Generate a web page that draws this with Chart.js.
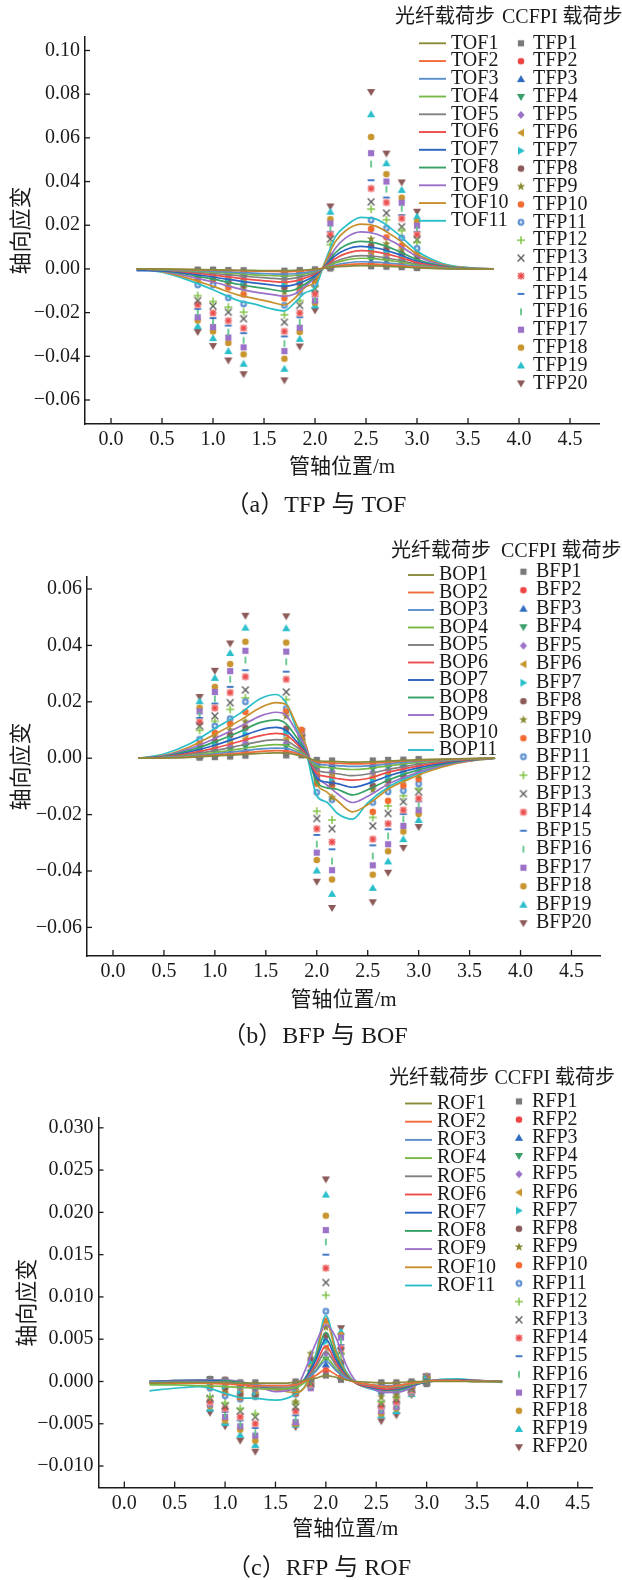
<!DOCTYPE html>
<html>
<head>
<meta charset="utf-8">
<script src="https://cdn.jsdelivr.net/npm/chart.js@4.4.1/dist/chart.umd.min.js"></script>
<style>
  html, body { margin: 0; padding: 0; background: #fff; }
  #page { position: relative; width: 622px; height: 1580px; }
  canvas { position: absolute; left: 0; }
</style>
</head>
<body>
<div id="page">
  <canvas id="chartA" width="622" height="525" style="top:0"></canvas>
  <canvas id="chartB" width="622" height="525" style="top:525px"></canvas>
  <canvas id="chartC" width="622" height="530" style="top:1050px"></canvas>
</div>
<script>
// ---- data ----
const xTicks = [0, 0.5, 1.0, 1.5, 2.0, 2.5, 3.0, 3.5, 4.0, 4.5];
const yTicksA = [-0.06, -0.04, -0.02, 0, 0.02, 0.04, 0.06, 0.08, 0.10];
const yTicksB = [-0.06, -0.04, -0.02, 0, 0.02, 0.04, 0.06];
const yTicksC = [-0.010, -0.005, 0, 0.005, 0.010, 0.015, 0.020, 0.025, 0.030];

// CCFPI measuring positions (m)
const pointX = [0.85, 1.0, 1.15, 1.3, 1.7, 1.85, 2.0, 2.15, 2.55, 2.7, 2.85, 3.0];

// (a) fibre curves TOF1..TOF11
const aLineX = [0.25, 0.5, 0.75, 1.0, 1.25, 1.4, 1.55, 1.7, 1.8, 1.9, 2.0, 2.1, 2.2, 2.3, 2.45, 2.6, 2.8, 3.0, 3.25, 3.5, 3.75];
const aOF = [
  [0, -0.0001, -0.0002, -0.0004, -0.0006, -0.0007, -0.0008, -0.0008, -0.0007, -0.0005, -0.0002, 0.0003, 0.0009, 0.0012, 0.0015, 0.0014, 0.001, 0.0005, 0.0001, 0, 0],
  [0, -0.0001, -0.0003, -0.0006, -0.0008, -0.001, -0.0011, -0.0012, -0.0011, -0.0008, -0.0003, 0.0005, 0.0013, 0.0019, 0.0023, 0.0022, 0.0016, 0.0008, 0.0002, 0, 0],
  [0, -0.0002, -0.0006, -0.0011, -0.0016, -0.0019, -0.0022, -0.0024, -0.0022, -0.0017, -0.0009, 0.0005, 0.0018, 0.0027, 0.0033, 0.0031, 0.0023, 0.0012, 0.0003, 0.0001, 0],
  [0, -0.0003, -0.0008, -0.0015, -0.0022, -0.0027, -0.003, -0.0033, -0.003, -0.0023, -0.0012, 0.0007, 0.0027, 0.004, 0.0049, 0.0046, 0.0034, 0.0017, 0.0005, 0.0001, 0],
  [0, -0.0004, -0.0011, -0.0021, -0.0031, -0.0037, -0.0042, -0.0046, -0.0042, -0.0032, -0.0017, 0.0009, 0.0034, 0.005, 0.0061, 0.0057, 0.0042, 0.0021, 0.0006, 0.0001, 0],
  [0, -0.0005, -0.0015, -0.0028, -0.0042, -0.005, -0.0056, -0.0061, -0.0056, -0.0042, -0.0022, 0.0012, 0.0047, 0.007, 0.0084, 0.0078, 0.0057, 0.0029, 0.0008, 0.0002, 0],
  [-0.0008, -0.0009, -0.002, -0.0037, -0.0055, -0.0064, -0.0072, -0.0079, -0.0072, -0.0055, -0.003, 0.0014, 0.0061, 0.0088, 0.0103, 0.0096, 0.007, 0.0035, 0.001, 0.0002, 0],
  [0, -0.0008, -0.0025, -0.0047, -0.007, -0.0082, -0.0092, -0.0103, -0.0095, -0.007, -0.0035, 0.0016, 0.0074, 0.0108, 0.0126, 0.0118, 0.0085, 0.0043, 0.0013, 0.0003, 0],
  [0, -0.001, -0.0033, -0.006, -0.009, -0.0105, -0.0115, -0.0125, -0.0115, -0.008, -0.004, 0.0018, 0.0095, 0.0142, 0.017, 0.016, 0.0115, 0.0058, 0.0017, 0.0004, 0],
  [0, -0.0012, -0.0042, -0.008, -0.012, -0.0135, -0.015, -0.0165, -0.0135, -0.0085, -0.006, 0.003, 0.0125, 0.0175, 0.0205, 0.0195, 0.014, 0.0068, 0.002, 0.0005, 0],
  [0, -0.0015, -0.005, -0.0095, -0.0145, -0.016, -0.018, -0.0192, -0.0155, -0.011, -0.0085, 0.0035, 0.0148, 0.0196, 0.0236, 0.0228, 0.0165, 0.0082, 0.0025, 0.0006, 0]
];
// (a) CCFPI points: one row per position in pointX, TFP1..TFP20
const aFP = [
  [-0.0003, -0.0006, -0.001, -0.0013, -0.0017, -0.0022, -0.0026, -0.0031, -0.0037, -0.0046, -0.0073, -0.0122, -0.0145, -0.0164, -0.0183, -0.0198, -0.0221, -0.0236, -0.0262, -0.0289],
  [-0.0003, -0.0006, -0.001, -0.0014, -0.0019, -0.0024, -0.003, -0.0036, -0.0043, -0.005, -0.0073, -0.0149, -0.017, -0.0202, -0.0225, -0.024, -0.0266, -0.0286, -0.0317, -0.0353],
  [-0.0005, -0.001, -0.0015, -0.0021, -0.0028, -0.0036, -0.0045, -0.0055, -0.0068, -0.0085, -0.0132, -0.0175, -0.0198, -0.0237, -0.0259, -0.0289, -0.0314, -0.0339, -0.0376, -0.0419],
  [-0.0006, -0.0012, -0.0019, -0.0027, -0.0036, -0.0046, -0.0058, -0.0072, -0.009, -0.0117, -0.016, -0.0198, -0.0228, -0.0271, -0.0294, -0.0327, -0.0359, -0.0391, -0.0434, -0.0482],
  [-0.0008, -0.0015, -0.0023, -0.0032, -0.0043, -0.0055, -0.0068, -0.0085, -0.0106, -0.0135, -0.0167, -0.021, -0.0244, -0.0286, -0.0309, -0.0342, -0.0376, -0.0411, -0.0457, -0.051],
  [-0.0005, -0.001, -0.0016, -0.0023, -0.0031, -0.004, -0.005, -0.0062, -0.0075, -0.009, -0.0107, -0.0145, -0.0167, -0.0202, -0.0221, -0.0244, -0.0269, -0.0289, -0.032, -0.0355],
  [-0.0002, -0.0005, -0.0009, -0.0013, -0.0018, -0.0024, -0.003, -0.0037, -0.0045, -0.0055, -0.0068, -0.008, -0.0091, -0.0114, -0.0125, -0.0135, -0.0145, -0.0155, -0.0167, -0.019],
  [0.0002, 0.0006, 0.001, 0.0014, 0.0019, 0.0025, 0.0032, 0.004, 0.0048, 0.0056, 0.006, 0.0111, 0.0137, 0.0157, 0.017, 0.0183, 0.0208, 0.0228, 0.0262, 0.0286],
  [0.0012, 0.002, 0.003, 0.0042, 0.0055, 0.007, 0.0087, 0.0105, 0.0137, 0.0183, 0.0224, 0.0274, 0.0307, 0.0368, 0.0406, 0.048, 0.053, 0.0604, 0.0708, 0.081],
  [0.001, 0.0018, 0.0027, 0.0037, 0.0048, 0.006, 0.0074, 0.009, 0.0115, 0.0145, 0.0186, 0.0225, 0.0256, 0.0304, 0.0327, 0.0365, 0.04, 0.0434, 0.0484, 0.0528],
  [0.0008, 0.0014, 0.002, 0.0028, 0.0036, 0.0045, 0.0055, 0.0067, 0.0085, 0.0107, 0.0142, 0.0175, 0.0193, 0.0231, 0.0247, 0.0277, 0.0303, 0.0326, 0.0362, 0.0396],
  [0.0004, 0.0008, 0.0012, 0.0017, 0.0022, 0.0028, 0.0035, 0.0043, 0.0055, 0.0068, 0.0094, 0.0122, 0.0134, 0.0157, 0.017, 0.018, 0.0198, 0.0216, 0.024, 0.0262]
];

// (b) fibre curves BOP1..BOP11
const bLineX = [0.25, 0.5, 0.75, 1.0, 1.25, 1.45, 1.6, 1.7, 1.8, 1.9, 2.0, 2.1, 2.2, 2.35, 2.5, 2.7, 2.9, 3.1, 3.35, 3.55, 3.75];
const bOF = [
  [0, 0.0001, 0.0003, 0.0008, 0.0013, 0.0017, 0.0019, 0.0018, 0.0012, 0.0002, -0.0009, -0.0011, -0.0012, -0.0014, -0.0013, -0.001, -0.0007, -0.0004, -0.0002, -0.0001, 0],
  [0, 0.0001, 0.0005, 0.0011, 0.0018, 0.0024, 0.0027, 0.0026, 0.0017, 0.0003, -0.0013, -0.0016, -0.0018, -0.002, -0.0019, -0.0014, -0.0009, -0.0006, -0.0003, -0.0001, 0],
  [0, 0.0002, 0.0007, 0.0015, 0.0025, 0.0033, 0.0036, 0.0035, 0.0023, 0.0005, -0.002, -0.0024, -0.0026, -0.0029, -0.0027, -0.002, -0.0013, -0.0008, -0.0004, -0.0001, 0],
  [0, 0.0002, 0.0009, 0.002, 0.0033, 0.0044, 0.0048, 0.0046, 0.003, 0.0006, -0.0028, -0.0033, -0.0036, -0.004, -0.0037, -0.0027, -0.0018, -0.0011, -0.0005, -0.0002, 0],
  [0, 0.0003, 0.0013, 0.0027, 0.0045, 0.006, 0.0066, 0.0062, 0.004, 0.0009, -0.0042, -0.005, -0.0055, -0.0062, -0.0056, -0.004, -0.0027, -0.0016, -0.0007, -0.0002, 0],
  [0, 0.0004, 0.0017, 0.0036, 0.006, 0.008, 0.0088, 0.0082, 0.0052, 0.0012, -0.0055, -0.0065, -0.0072, -0.0078, -0.0072, -0.005, -0.0034, -0.0021, -0.0009, -0.0003, 0],
  [0, 0.0005, 0.0022, 0.0046, 0.0076, 0.0101, 0.0109, 0.0098, 0.006, 0.0015, -0.007, -0.0085, -0.009, -0.0103, -0.009, -0.0063, -0.0042, -0.0026, -0.0011, -0.0004, 0],
  [0, 0.0007, 0.0027, 0.0058, 0.0095, 0.0127, 0.0136, 0.0122, 0.0075, 0.002, -0.0085, -0.0105, -0.011, -0.013, -0.0112, -0.0078, -0.0052, -0.0032, -0.0014, -0.0005, 0],
  [0, 0.0008, 0.0033, 0.007, 0.0113, 0.015, 0.0163, 0.0152, 0.0095, 0.003, -0.0065, -0.0095, -0.0125, -0.0157, -0.0135, -0.0092, -0.0062, -0.0038, -0.0017, -0.0006, 0],
  [0, 0.001, 0.004, 0.0085, 0.0135, 0.018, 0.0197, 0.019, 0.012, 0.004, -0.009, -0.012, -0.015, -0.019, -0.0165, -0.011, -0.0075, -0.0046, -0.002, -0.0008, 0],
  [0, 0.0015, 0.005, 0.0105, 0.016, 0.0212, 0.0226, 0.0195, 0.0105, 0.0015, -0.0133, -0.0156, -0.0195, -0.0216, -0.0158, -0.0103, -0.0068, -0.0042, -0.0018, -0.0007, 0]
];
// (b) CCFPI points BFP1..BFP20, one row per position
const bFP = [
  [0.0002, 0.0005, 0.0009, 0.0013, 0.0017, 0.0022, 0.0028, 0.0035, 0.0043, 0.0051, 0.0067, 0.0099, 0.0114, 0.0128, 0.0143, 0.0152, 0.0166, 0.0179, 0.0202, 0.0217],
  [0.0004, 0.0009, 0.0015, 0.0022, 0.003, 0.0039, 0.0049, 0.006, 0.0074, 0.009, 0.0114, 0.0131, 0.015, 0.0178, 0.0194, 0.0211, 0.0235, 0.0253, 0.0285, 0.031],
  [0.0006, 0.0012, 0.002, 0.0029, 0.004, 0.0052, 0.0066, 0.0082, 0.01, 0.0122, 0.014, 0.0173, 0.0197, 0.0233, 0.0253, 0.028, 0.0309, 0.0334, 0.0373, 0.0407],
  [0.0009, 0.0018, 0.0028, 0.004, 0.0054, 0.007, 0.0088, 0.0108, 0.013, 0.0164, 0.02, 0.0214, 0.0242, 0.0289, 0.0312, 0.0348, 0.0381, 0.0413, 0.0463, 0.0505],
  [0.001, 0.0018, 0.0028, 0.004, 0.0054, 0.007, 0.0088, 0.0105, 0.0149, 0.0166, 0.0176, 0.0208, 0.0235, 0.028, 0.0307, 0.0342, 0.0378, 0.041, 0.0461, 0.0503],
  [0.001, 0.0018, 0.0026, 0.0034, 0.0042, 0.005, 0.0058, 0.0066, 0.0075, 0.0101, 0.0062, 0.0068, 0.0072, 0.0076, 0.008, 0.0083, 0.0086, 0.0089, 0.0092, 0.0095],
  [-0.0006, -0.0012, -0.0019, -0.0027, -0.0036, -0.0046, -0.0057, -0.0069, -0.0082, -0.0091, -0.0121, -0.0188, -0.0214, -0.025, -0.0272, -0.0305, -0.0335, -0.0361, -0.0398, -0.0438],
  [-0.0008, -0.0016, -0.0025, -0.0035, -0.0046, -0.0058, -0.0072, -0.0088, -0.0139, -0.0097, -0.0147, -0.0219, -0.025, -0.0297, -0.0323, -0.0365, -0.0397, -0.043, -0.0481, -0.0531],
  [-0.0008, -0.0016, -0.0026, -0.0037, -0.005, -0.0065, -0.008, -0.0097, -0.0112, -0.019, -0.0157, -0.021, -0.024, -0.0287, -0.0309, -0.0347, -0.038, -0.0413, -0.046, -0.0511],
  [-0.0006, -0.0013, -0.0021, -0.003, -0.004, -0.0052, -0.0065, -0.008, -0.0098, -0.0151, -0.0119, -0.0169, -0.0196, -0.0232, -0.0252, -0.0276, -0.0305, -0.033, -0.0366, -0.0406],
  [-0.0005, -0.001, -0.0016, -0.0023, -0.0031, -0.004, -0.005, -0.0062, -0.0077, -0.0097, -0.0115, -0.0133, -0.0154, -0.0184, -0.0198, -0.0216, -0.024, -0.026, -0.0287, -0.0318],
  [-0.0003, -0.0007, -0.0012, -0.0017, -0.0023, -0.003, -0.0038, -0.0047, -0.006, -0.0074, -0.0091, -0.0107, -0.0119, -0.0143, -0.0153, -0.0169, -0.0184, -0.0198, -0.0219, -0.0244]
];

// (c) fibre curves ROF1..ROF11
const cLineX = [0.25, 0.5, 0.75, 1.0, 1.15, 1.3, 1.5, 1.7, 1.8, 1.9, 2.0, 2.1, 2.2, 2.3, 2.45, 2.6, 2.75, 2.9, 3.1, 3.3, 3.5, 3.75];
const cOF = [
  [-0.0002, -0.0001, -0.0001, -0.0001, -0.0002, -0.0002, -0.0002, -0.0001, 0.0002, 0.0004, 0.0007, 0.0005, 0.0002, 0, -0.0001, -0.0002, -0.0001, 0, 0, 0, 0, 0],
  [-0.0002, -0.0002, -0.0002, -0.0003, -0.0004, -0.0005, -0.0005, -0.0004, 0.0001, 0.0007, 0.0014, 0.0008, 0.0002, -0.0001, -0.0004, -0.0006, -0.0004, -0.0001, 0.0001, 0.0001, 0, 0],
  [0, 0, 0, -0.0001, -0.0002, -0.0004, -0.0005, -0.0004, 0.0002, 0.0012, 0.0024, 0.0013, 0.0004, -0.0001, -0.0004, -0.0005, -0.0004, -0.0001, 0.0001, 0.0001, 0, 0],
  [-0.0004, -0.0004, -0.0005, -0.0006, -0.0007, -0.0008, -0.0009, -0.0007, 0, 0.0013, 0.0028, 0.0015, 0.0004, -0.0001, -0.0004, -0.0006, -0.0005, -0.0002, 0.0001, 0.0001, 0, 0],
  [0, 0, 0, -0.0001, -0.0002, -0.0005, -0.0007, -0.0006, 0.0002, 0.0017, 0.0035, 0.0019, 0.0005, -0.0001, -0.0005, -0.0007, -0.0006, -0.0002, 0.0001, 0.0001, 0, 0],
  [0, 0, 0, -0.0001, -0.0003, -0.0008, -0.0009, -0.0007, 0.0002, 0.002, 0.0042, 0.0022, 0.0006, -0.0002, -0.0006, -0.0009, -0.0007, -0.0002, 0.0001, 0.0001, 0.0001, 0],
  [0, 0.0001, 0.0001, 0, -0.0002, -0.0005, -0.0009, -0.0007, 0.0004, 0.0025, 0.005, 0.0026, 0.0007, -0.0002, -0.0007, -0.001, -0.0008, -0.0003, 0.0001, 0.0002, 0.0001, 0],
  [0, 0.0001, 0.0001, 0.0001, -0.0001, -0.0004, -0.0009, -0.0008, 0.0005, 0.0028, 0.0058, 0.003, 0.0008, -0.0002, -0.0007, -0.001, -0.0009, -0.0003, 0.0001, 0.0002, 0.0001, 0],
  [0, 0.0001, 0.0002, 0.0002, 0, -0.0004, -0.0012, -0.0008, 0.0015, 0.0045, 0.0067, 0.0052, 0.002, 0, -0.0008, -0.0013, -0.0012, -0.0004, 0.0002, 0.0002, 0.0001, 0],
  [-0.0001, 0, 0.0001, 0.0001, -0.0002, -0.0005, -0.001, -0.0013, -0.0005, 0.0028, 0.0072, 0.0035, 0.001, -0.0002, -0.0008, -0.0011, -0.0009, -0.0003, 0.0002, 0.0002, 0.0001, 0],
  [-0.0011, -0.0008, -0.0006, -0.0014, -0.0019, -0.002, -0.0022, -0.0015, -0.0004, 0.0032, 0.0078, 0.0038, 0.0012, -0.0002, -0.0009, -0.0013, -0.0011, -0.0003, 0.0002, 0.0003, 0.0001, -0.0001]
];
// (c) CCFPI points RFP1..RFP20, one row per position
const cFP = [
  [0.0003, 0.0003, 0.0002, 0.0002, 0.0001, 0, -0.0001, -0.0002, -0.0004, -0.0006, -0.0008, -0.0018, -0.002, -0.0024, -0.0025, -0.0026, -0.0027, -0.0029, -0.0032, -0.0037],
  [0.0002, 0.0002, 0.0001, 0, -0.0001, -0.0003, -0.0005, -0.0007, -0.001, -0.0013, -0.0017, -0.0025, -0.0029, -0.0032, -0.0036, -0.0039, -0.0042, -0.0046, -0.0049, -0.0053],
  [-0.0001, -0.0002, -0.0003, -0.0005, -0.0007, -0.0009, -0.0011, -0.0014, -0.0017, -0.0019, -0.0021, -0.0032, -0.0035, -0.0042, -0.0046, -0.005, -0.0053, -0.0057, -0.0063, -0.007],
  [-0.0001, -0.0003, -0.0005, -0.0007, -0.0009, -0.0011, -0.0013, -0.0015, -0.0017, -0.0016, -0.0018, -0.0038, -0.0042, -0.005, -0.0055, -0.006, -0.0064, -0.007, -0.0075, -0.0083],
  [0, -0.0001, -0.0002, -0.0004, -0.0006, -0.0008, -0.001, -0.0012, -0.0024, -0.0014, -0.0015, -0.0025, -0.003, -0.0035, -0.004, -0.0044, -0.0048, -0.005, -0.0051, -0.0054],
  [0.0002, 0.0004, 0.0006, 0.001, 0.0013, 0.0018, 0.0022, 0.0026, 0.0033, 0.0008, 0.0004, 0, -0.0002, -0.0003, -0.0004, -0.0005, -0.0008, -0.0006, -0.0004, -0.0005],
  [0.0007, 0.0013, 0.002, 0.0026, 0.0033, 0.004, 0.0047, 0.0054, 0.0064, 0.0072, 0.0083, 0.0102, 0.0117, 0.0134, 0.015, 0.0165, 0.0179, 0.0196, 0.0221, 0.0239],
  [0.0002, 0.0004, 0.0006, 0.0009, 0.0012, 0.0015, 0.0018, 0.0021, 0.0024, 0.0013, 0.0018, 0.0033, 0.0036, 0.0039, 0.0043, 0.0048, 0.0052, 0.0055, 0.0059, 0.0063],
  [-0.0001, -0.0002, -0.0003, -0.0004, -0.0006, -0.0007, -0.0009, -0.0011, -0.0018, -0.0009, -0.0013, -0.0024, -0.0026, -0.0029, -0.0031, -0.0033, -0.0035, -0.0038, -0.004, -0.0047],
  [-0.0001, -0.0002, -0.0003, -0.0004, -0.0005, -0.0006, -0.0008, -0.001, -0.0016, -0.0009, -0.0012, -0.0019, -0.0021, -0.0024, -0.0026, -0.0028, -0.003, -0.0032, -0.0035, -0.004],
  [0, -0.0001, -0.0001, -0.0002, -0.0003, -0.0004, -0.0005, -0.0006, -0.0007, -0.0006, -0.0007, -0.0008, -0.0009, -0.001, -0.0011, -0.0012, -0.0013, -0.0014, -0.0015, -0.0016],
  [-0.0003, -0.0002, -0.0001, 0, 0.0001, 0.0002, 0.0003, 0.0003, 0.0004, 0.0004, 0.0005, 0.0005, 0.0005, 0.0006, 0.0006, 0.0006, 0.0006, 0.0006, 0.0006, 0.0006]
];

// ---- styles ----
const FONT = '"Liberation Serif", "Times New Roman", "Noto Sans CJK SC", serif';
const INK = '#1a1a1a';
const lineColors = ['#8a8a3b', '#f26b3a', '#5a8fcc', '#78b848', '#808080', '#ee4b4b',
                    '#2b63c0', '#36a165', '#9a70c8', '#c8902c', '#2bbfc8'];
const markerSpec = [
  ['square', '#7a7a7a'], ['circle', '#ee4444'], ['up', '#2f6cc0'], ['down', '#3aa06a'],
  ['diamond', '#9b72c8'], ['left', '#c8952f'], ['right', '#2bbfcc'], ['circle', '#8c5a58'],
  ['star', '#8a8a35'], ['circle', '#f26b30'], ['ring', '#5b8fd0'], ['plus', '#7cc040'],
  ['cross', '#606060'], ['asterisk', '#e84545'], ['hdash', '#2f6cc0'], ['vdash', '#5fc48a'],
  ['square', '#9b72c8'], ['circle', '#c8952f'], ['up', '#2bbfcc'], ['down', '#8c5a58']
];

function makeMarker(shape, color) {
  const c = document.createElement('canvas');
  c.width = 14; c.height = 14;
  const g = c.getContext('2d');
  g.translate(7, 7);
  g.fillStyle = color; g.strokeStyle = color; g.lineWidth = 1.4;
  const poly = pts => { g.beginPath(); pts.forEach(([x, y], i) => i ? g.lineTo(x, y) : g.moveTo(x, y)); g.closePath(); g.fill(); };
  const seg = (x1, y1, x2, y2) => { g.beginPath(); g.moveTo(x1, y1); g.lineTo(x2, y2); g.stroke(); };
  switch (shape) {
    case 'square': g.fillRect(-3.1, -3.1, 6.2, 6.2); break;
    case 'circle': g.beginPath(); g.arc(0, 0, 3.3, 0, 2 * Math.PI); g.fill(); break;
    case 'ring':
      g.beginPath(); g.arc(0, 0, 3.4, 0, 2 * Math.PI); g.fill();
      g.fillStyle = '#d6e4f5'; g.beginPath(); g.arc(0, 0, 1.4, 0, 2 * Math.PI); g.fill(); break;
    case 'up': poly([[0, -3.9], [4.1, 3.0], [-4.1, 3.0]]); break;
    case 'down': poly([[0, 3.9], [4.1, -3.0], [-4.1, -3.0]]); break;
    case 'left': poly([[-3.9, 0], [3.0, -4.1], [3.0, 4.1]]); break;
    case 'right': poly([[3.9, 0], [-3.0, -4.1], [-3.0, 4.1]]); break;
    case 'diamond': poly([[0, -4.1], [3.6, 0], [0, 4.1], [-3.6, 0]]); break;
    case 'star': {
      const p = [];
      for (let k = 0; k < 10; k++) {
        const r = k % 2 ? 1.9 : 4.5, a = -Math.PI / 2 + k * Math.PI / 5;
        p.push([r * Math.cos(a), r * Math.sin(a)]);
      }
      poly(p); break;
    }
    case 'plus': seg(-4, 0, 4, 0); seg(0, -4, 0, 4); break;
    case 'cross': seg(-3.4, -3.4, 3.4, 3.4); seg(-3.4, 3.4, 3.4, -3.4); break;
    case 'asterisk':
      g.fillStyle = '#f9c2c2'; g.fillRect(-3.4, -3.4, 6.8, 6.8); g.lineWidth = 1.2;
      seg(-3.4, 0, 3.4, 0); seg(0, -3.4, 0, 3.4); seg(-2.6, -2.6, 2.6, 2.6); seg(-2.6, 2.6, 2.6, -2.6); break;
    case 'hdash': g.fillRect(-3.4, -0.9, 6.8, 1.8); break;
    case 'vdash': g.fillRect(-0.9, -3.4, 1.8, 6.8); break;
  }
  return c;
}
const markers = markerSpec.map(([s, col]) => makeMarker(s, col));

// inward tick marks on both axes
const innerTicks = {
  id: 'innerTicks',
  afterDraw(chart) {
    const { ctx, chartArea: a, scales: { x, y } } = chart;
    ctx.save();
    ctx.strokeStyle = INK; ctx.lineWidth = 1.3;
    x.ticks.forEach(t => {
      const px = x.getPixelForValue(t.value);
      ctx.beginPath(); ctx.moveTo(px, a.bottom); ctx.lineTo(px, a.bottom - 6); ctx.stroke();
    });
    y.ticks.forEach(t => {
      const py = y.getPixelForValue(t.value);
      ctx.beginPath(); ctx.moveTo(a.left, py); ctx.lineTo(a.left + 5, py); ctx.stroke();
    });
    ctx.restore();
  }
};

// two-column legend with header, plus the panel caption
const panelText = {
  id: 'panelText',
  afterDraw(chart, args, o) {
    const ctx = chart.ctx;
    ctx.save();
    ctx.fillStyle = INK;
    ctx.textBaseline = 'middle';
    ctx.textAlign = 'center';
    ctx.font = '24px ' + FONT;
    ctx.fillText(o.caption, o.capX, o.capY);
    ctx.textAlign = 'left';
    ctx.font = '20px ' + FONT;
    ctx.fillText('光纤载荷步', o.h1x, o.hy);
    ctx.fillText('CCFPI 载荷步', o.h2x, o.hy);
    const sets = chart.data.datasets;
    sets.filter(d => d.kind === 'line').forEach((d, i) => {
      const y = o.ly + i * o.lstep;
      ctx.strokeStyle = d.borderColor; ctx.lineWidth = 1.9;
      ctx.beginPath(); ctx.moveTo(o.lx, y); ctx.lineTo(o.lx + o.llen, y); ctx.stroke();
      ctx.fillText(d.label, o.ltx, y);
    });
    sets.filter(d => d.kind === 'point').forEach((d, i) => {
      const y = o.py + i * o.pstep;
      const m = d.pointStyle;
      ctx.drawImage(m, o.px - m.width / 2, y - m.height / 2);
      ctx.fillText(d.label, o.ptx, y);
    });
    ctx.restore();
  }
};

const signed = dec => v => (v < 0 ? '\u2212' : '') + Math.abs(v).toFixed(dec);

function buildChart(id, p) {
  const datasets = [];
  p.lines.forEach((row, i) => datasets.push({
    label: p.lineName + (i + 1), kind: 'line',
    data: row.map((v, j) => ({ x: p.lineX[j], y: v })),
    showLine: true, borderColor: lineColors[i], backgroundColor: lineColors[i],
    borderWidth: 1.7, pointRadius: 0, pointHoverRadius: 0,
    cubicInterpolationMode: 'monotone', order: 0
  }));
  for (let k = 0; k < 20; k++) {
    datasets.push({
      label: p.pointName + (k + 1), kind: 'point',
      data: p.points.map((row, j) => ({ x: pointX[j], y: row[k] })),
      pointStyle: markers[k], pointRadius: 3, showLine: false, order: 1
    });
  }
  return new Chart(document.getElementById(id), {
    type: 'scatter',
    data: { datasets },
    options: {
      responsive: false, animation: false, events: [],
      layout: { padding: { top: p.padTop, right: p.padRight, left: 0, bottom: p.padBottom } },
      plugins: {
        legend: { display: false },
        tooltip: { enabled: false },
        panelText: p.text
      },
      scales: {
        x: {
          type: 'linear', min: p.xMin, max: p.xMax,
          afterBuildTicks: s => { s.ticks = xTicks.map(v => ({ value: v })); },
          afterFit: s => { s.height = p.xHeight; },
          grid: { display: false, drawTicks: false },
          border: { display: true, color: INK, width: 1.5 },
          ticks: { padding: 4, color: INK, autoSkip: false, maxRotation: 0, font: { size: 20, family: FONT },
                   callback: v => v.toFixed(1) },
          title: { display: true, text: '管轴位置/m', color: INK, font: { size: 21, family: FONT },
                   padding: { top: 0, bottom: 0 } }
        },
        y: {
          type: 'linear', min: p.yMin, max: p.yMax,
          afterBuildTicks: s => { s.ticks = p.yTicks.map(v => ({ value: v })); },
          afterFit: s => { s.width = p.yWidth; },
          grid: { display: false, drawTicks: false },
          border: { display: true, color: INK, width: 1.5 },
          ticks: { padding: 5, color: INK, autoSkip: false, font: { size: 20, family: FONT },
                   callback: signed(p.dec) },
          title: { display: true, text: '轴向应变', color: INK, font: { size: 22, family: FONT },
                   padding: { top: p.yTitlePad, bottom: 0 } }
        }
      }
    },
    plugins: [innerTicks, panelText]
  });
}

Chart.defaults.font.family = FONT;

buildChart('chartA', {
  lines: aOF, lineX: aLineX, points: aFP, lineName: 'TOF', pointName: 'TFP',
  yTicks: yTicksA, dec: 2,
  xMin: -0.255, xMax: 4.784, yMin: -0.07099, yMax: 0.10618,
  yWidth: 85, yTitlePad: 9, xHeight: 56, padTop: 37, padRight: 23, padBottom: 45,
  text: { caption: '（a）TFP 与 TOF', capX: 316, capY: 506,
          h1x: 395, h2x: 502, hy: 17.3, lx: 419, llen: 27, ltx: 451, ly: 43.3, lstep: 17.75,
          px: 521, ptx: 533, py: 43.3, pstep: 17.9 }
});
buildChart('chartB', {
  lines: bOF, lineX: bLineX, points: bFP, lineName: 'BOP', pointName: 'BFP',
  yTicks: yTicksB, dec: 2,
  xMin: -0.255, xMax: 4.78, yMin: -0.07014, yMax: 0.06426,
  yWidth: 87, yTitlePad: 9, xHeight: 57, padTop: 52, padRight: 22, padBottom: 37,
  text: { caption: '（b）BFP 与 BOF', capX: 315, capY: 512,
          h1x: 391, h2x: 501, hy: 26.7, lx: 408, llen: 26, ltx: 439, ly: 50, lstep: 17.5,
          px: 523.4, ptx: 536, py: 46.7, pstep: 18.5 }
});
buildChart('chartC', {
  lines: cOF, lineX: cLineX, points: cFP, lineName: 'ROF', pointName: 'RFP',
  yTicks: yTicksC, dec: 3,
  xMin: -0.256, xMax: 4.641, yMin: -0.01255, yMax: 0.03116,
  yWidth: 98.5, yTitlePad: 15, xHeight: 54.4, padTop: 68, padRight: 30, padBottom: 38,
  text: { caption: '（c）RFP 与 ROF', capX: 319, capY: 519,
          h1x: 389, h2x: 494.5, hy: 28.8, lx: 405, llen: 27, ltx: 437, ly: 53.5, lstep: 18.2,
          px: 519, ptx: 532, py: 51.4, pstep: 18.2 }
});
</script>
</body>
</html>
